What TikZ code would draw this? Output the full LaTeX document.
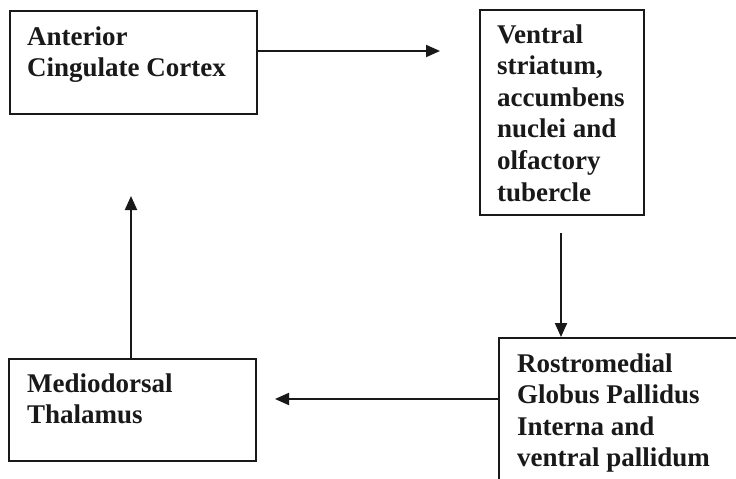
\documentclass[tikz,border=0pt]{standalone}
\usepackage{fontspec}
\setmainfont{Liberation Serif}
\usetikzlibrary{arrows.meta}
\tikzset{
  box/.style={draw=black!90, line width=1.5pt, rectangle, inner sep=0pt, anchor=north west},
  % multi-line labels are placed by the baseline of their last line
  lbl/.style={anchor=base west, inner sep=0pt, align=left,
    font=\fontsize{27pt}{31.6pt}\selectfont\bfseries, text=black!90},
  link/.style={draw=black!90, line width=2pt,
    -{Triangle[length=14pt,width=12pt]}}
}
\begin{document}
\begin{tikzpicture}[x=1pt,y=-1pt]
\useasboundingbox (0,0) rectangle (736,479);
\clip (0,0) rectangle (736,479);
\fill[white] (0,0) rectangle (736,479);

% boxes
\node[box, minimum width=247pt, minimum height=103pt] (acc) at (9,10) {};
\node[box, minimum width=164pt, minimum height=205pt] (vs) at (479,9) {};
\node[box, minimum width=300pt, minimum height=180pt] (gp) at (498,337) {};
\node[box, minimum width=247pt, minimum height=102pt] (md) at (8,358) {};

% labels
\node[lbl] (acc-t) at (27,76.6) {Anterior\\Cingulate Cortex};
\node[lbl] (vs-t) at (497,201) {Ventral\\striatum,\\accumbens\\nuclei and\\olfactory\\tubercle};
\node[lbl] (gp-t) at (517,466.8) {Rostromedial\\Globus Pallidus\\Interna and\\ventral pallidum};
\node[lbl] (md-t) at (27,423.6) {Mediodorsal\\Thalamus};

% free ends of the connectors
\coordinate (e1) at (440,51);
\coordinate (s2) at (561,233);
\coordinate (e3) at (275,399);
\coordinate (e4) at (131,196);

% connectors
\draw[link] (acc.east |- e1) -- (e1);
\draw[link] (s2) -- (s2 |- gp.north);
\draw[link] (gp.west |- e3) -- (e3);
\draw[link] (md.north -| e4) -- (e4);
\end{tikzpicture}
\end{document}
